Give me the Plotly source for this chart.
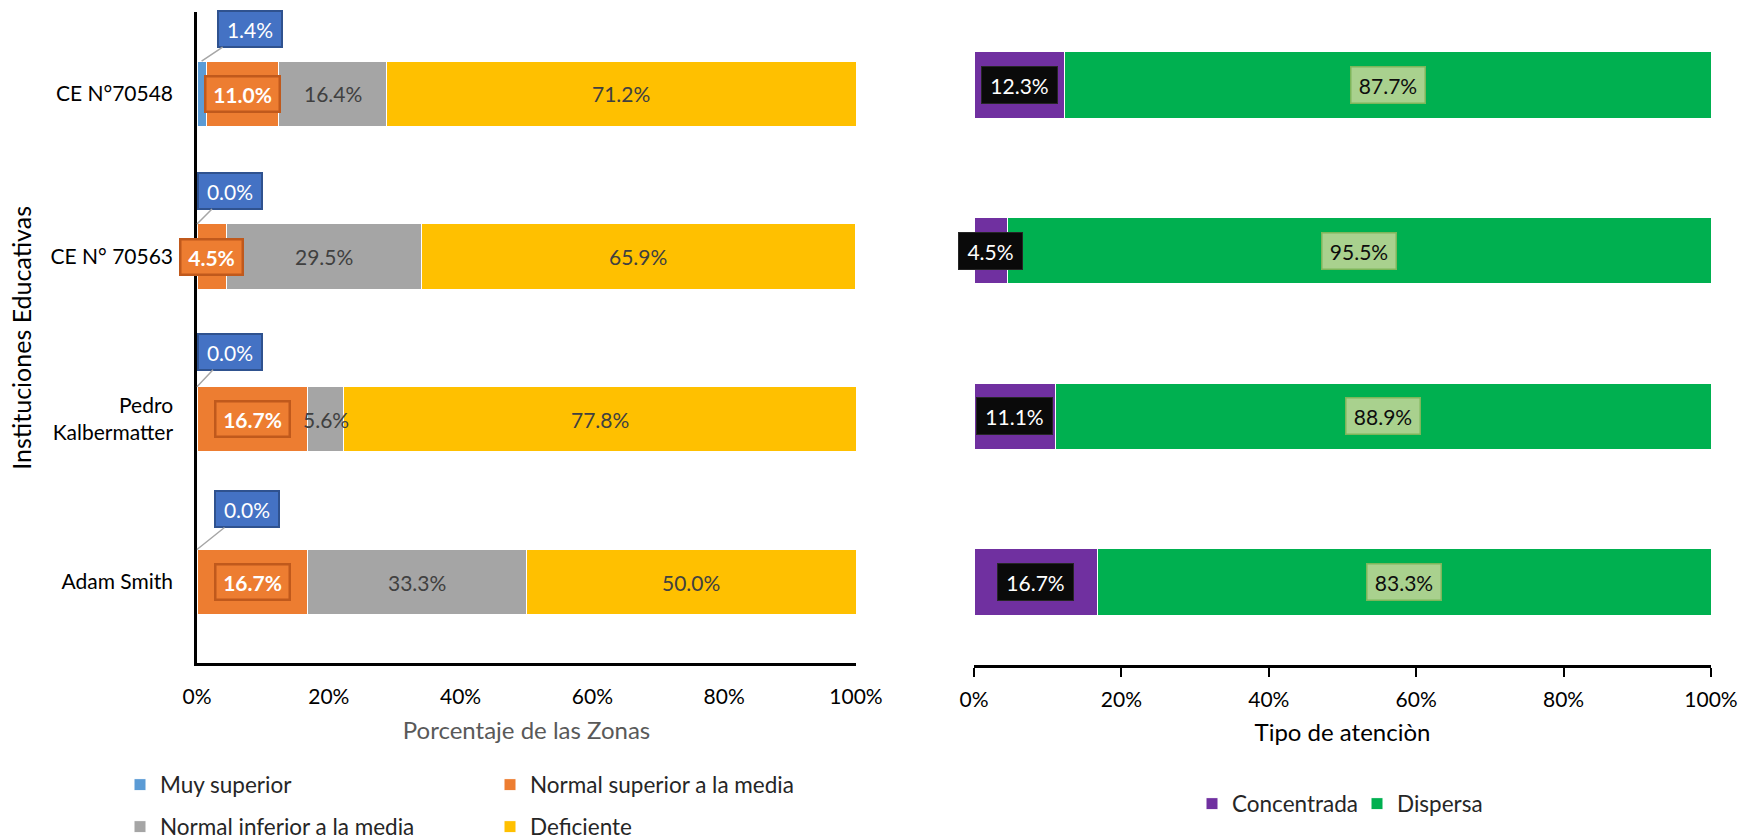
import plotly.graph_objects as go

# ---- data -------------------------------------------------------------
schools = ["CE N°70548", "CE N° 70563", "Pedro<br>Kalbermatter", "Adam Smith"]

muy_superior = [1.4, 0.0, 0.0, 0.0]
normal_superior = [11.0, 4.5, 16.7, 16.7]
normal_inferior = [16.4, 29.5, 5.6, 33.3]
deficiente = [71.2, 65.9, 77.8, 50.0]

concentrada = [12.3, 4.5, 11.1, 16.7]
dispersa = [87.7, 95.5, 88.9, 83.3]

pct_ticks = [0, 20, 40, 60, 80, 100]
pct_tick_labels = ["0%", "20%", "40%", "60%", "80%", "100%"]

# ---- style ------------------------------------------------------------
FONT = "Lato"
FS = 21          # tick labels and data labels
FS_TITLE = 24    # axis titles
FS_LEGEND = 22.5
C_BLUE = "#5B9BD5"
C_ORANGE = "#ED7D31"
C_GREY = "#A5A5A5"
C_YELLOW = "#FFC000"
C_PURPLE = "#7030A0"
C_GREEN = "#00B050"

W, H = 1758, 840
left_x = [197 / W, 856 / W]
right_x = [974 / W, 1711 / W]
left_y = [1 - 663.4 / H, 1 - 12.4 / H]
right_y = [1 - 665 / H, 1 - 2 / H]

fig = go.Figure()

zone_series = [
    ("Muy superior", muy_superior, C_BLUE, "legend"),
    ("Normal superior a la media", normal_superior, C_ORANGE, "legend"),
    ("Normal inferior a la media", normal_inferior, C_GREY, "legend2"),
    ("Deficiente", deficiente, C_YELLOW, "legend2"),
]
for name, vals, color, leg in zone_series:
    fig.add_trace(go.Bar(
        name=name, y=schools, x=vals, orientation="h",
        marker=dict(color=color, line=dict(color="white", width=1)),
        xaxis="x", yaxis="y", legend=leg, hoverinfo="x+y+name",
    ))

for name, vals, color in [("Concentrada", concentrada, C_PURPLE),
                          ("Dispersa", dispersa, C_GREEN)]:
    fig.add_trace(go.Bar(
        name=name, y=schools, x=vals, orientation="h",
        marker=dict(color=color, line=dict(color="white", width=1)),
        xaxis="x2", yaxis="y2", legend="legend3", hoverinfo="x+y+name",
    ))


def centers(series_list):
    """Mid-point of each stacked segment, per series."""
    out = []
    base = [0.0] * len(schools)
    for vals in series_list:
        out.append([b + v / 2 for b, v in zip(base, vals)])
        base = [b + v for b, v in zip(base, vals)]
    return out


def fmt(v):
    return f"{v:.1f}%"


def box_width(label):
    # text box width for a percentage label of 4 or 5 characters
    return 50 if len(label) == 4 else 62


annotations = []
zc = centers([muy_superior, normal_superior, normal_inferior, deficiente])
ac = centers([concentrada, dispersa])

# callout boxes for "Muy superior", linked to the top of each bar
callout_offsets = [(48, -32), (33, -33), (33, -35), (50, -40)]
for i, v in enumerate(muy_superior):
    ax_off, ay_off = callout_offsets[i]
    annotations.append(dict(
        x=zc[0][i], y=i - 0.2, xref="x", yref="y",
        text=fmt(v), showarrow=True, arrowhead=0, arrowwidth=1.5,
        arrowcolor="#A6A6A6", ax=ax_off, ay=ay_off,
        width=58, height=30,
        font=dict(family=FONT, size=FS, color="white"),
        bgcolor="#4472C4", bordercolor="#2F528F", borderwidth=2, borderpad=2,
    ))

# boxed labels for "Normal superior a la media"
for i, v in enumerate(normal_superior):
    annotations.append(dict(
        x=zc[1][i], y=schools[i], xref="x", yref="y",
        text=f"<b>{fmt(v)}</b>", showarrow=False,
        width=box_width(fmt(v)) + 6, height=29,
        font=dict(family=FONT, size=FS, color="white"),
        bgcolor=C_ORANGE, bordercolor="#C0591C", borderwidth=2.5, borderpad=2,
    ))

# plain labels for the grey and yellow segments
for k, vals in ((2, normal_inferior), (3, deficiente)):
    for i, v in enumerate(vals):
        annotations.append(dict(
            x=zc[k][i], y=schools[i], xref="x", yref="y",
            text=fmt(v), showarrow=False,
            font=dict(family=FONT, size=FS, color="#404040"),
        ))

# attention type labels
for i, v in enumerate(concentrada):
    annotations.append(dict(
        x=ac[0][i], y=schools[i], xref="x2", yref="y2",
        text=fmt(v), showarrow=False,
        width=box_width(fmt(v)) + 9, height=32,
        font=dict(family=FONT, size=FS, color="white"),
        bgcolor="#0A0A0A", bordercolor="#262626", borderwidth=1, borderpad=2,
    ))
for i, v in enumerate(dispersa):
    annotations.append(dict(
        x=ac[1][i], y=schools[i], xref="x2", yref="y2",
        text=fmt(v), showarrow=False, width=70, height=32,
        font=dict(family=FONT, size=FS, color="#0D0D0D"),
        bgcolor="#A9D18E", bordercolor="#7DB65A", borderwidth=1.5, borderpad=1.5,
    ))

legend_common = dict(
    orientation="h", xanchor="left", yanchor="middle",
    font=dict(family=FONT, size=FS_LEGEND, color="#262626"),
    bgcolor="rgba(0,0,0,0)", itemwidth=30, traceorder="normal",
    itemclick=False, itemdoubleclick=False,
)

axis_font = dict(family=FONT, size=FS, color="black")

fig.update_layout(
    width=W, height=H,
    margin=dict(l=0, r=0, t=0, b=0, autoexpand=False),
    paper_bgcolor="white", plot_bgcolor="white",
    barmode="stack", bargap=0.6,
    font=dict(family=FONT, size=FS, color="black"),
    showlegend=True,
    legend=dict(**legend_common, x=120 / W, y=1 - 785 / H,
                entrywidth=325, entrywidthmode="pixels"),
    legend2=dict(**legend_common, x=120 / W, y=1 - 827 / H,
                 entrywidth=325, entrywidthmode="pixels"),
    legend3=dict(**legend_common, x=1192 / W, y=1 - 804 / H,
                 entrywidth=120, entrywidthmode="pixels"),
    xaxis=dict(
        domain=left_x, anchor="y", range=[0, 100], automargin=False,
        tickmode="array", tickvals=pct_ticks, ticktext=pct_tick_labels,
        ticks="", ticklabelstandoff=13,
        showline=True, linecolor="black", linewidth=2.5,
        showgrid=False, zeroline=False, tickfont=axis_font,
        title=dict(text="Porcentaje de las Zonas", standoff=15,
                   font=dict(family=FONT, size=FS_TITLE, color="#595959")),
    ),
    yaxis=dict(
        domain=left_y, anchor="x", type="category", automargin=False,
        autorange="reversed", categoryorder="array", categoryarray=schools,
        ticks="", ticklabelstandoff=17,
        showline=True, linecolor="black", linewidth=2.5,
        showgrid=False, zeroline=False, tickfont=axis_font,
        title=dict(text="Instituciones Educativas", standoff=12,
                   font=dict(family=FONT, size=25, color="black")),
    ),
    xaxis2=dict(
        domain=right_x, anchor="y2", range=[0, 100], automargin=False,
        tickmode="array", tickvals=pct_ticks, ticktext=pct_tick_labels,
        ticks="outside", ticklen=9, tickwidth=2, tickcolor="black",
        ticklabelstandoff=5,
        showline=True, linecolor="black", linewidth=2.5,
        showgrid=False, zeroline=False, tickfont=axis_font,
        title=dict(text="Tipo de atenciòn", standoff=15,
                   font=dict(family=FONT, size=FS_TITLE, color="black")),
    ),
    yaxis2=dict(
        domain=right_y, anchor="x2", type="category", automargin=False,
        autorange="reversed", categoryorder="array", categoryarray=schools,
        showticklabels=False, ticks="", showline=False,
        showgrid=False, zeroline=False,
    ),
    annotations=annotations,
)

fig.write_html("out.html")
